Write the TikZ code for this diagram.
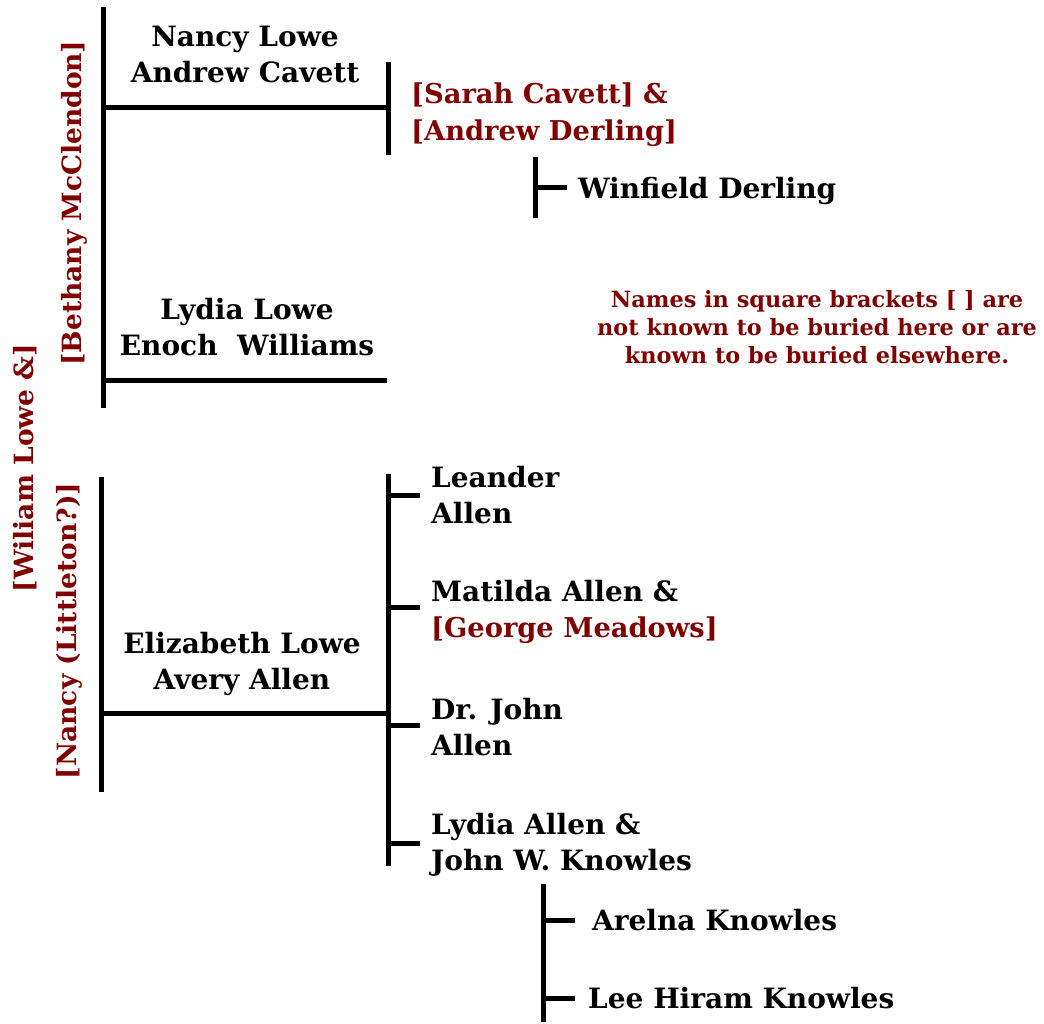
\documentclass[tikz,border=0pt]{standalone}
\usepackage{fontspec}
\setmainfont{DejaVu Serif}
\definecolor{dred}{RGB}{128,0,0}
\begin{document}
\begin{tikzpicture}[x=1pt,y=-1pt,
  person/.style={font=\bfseries\fontsize{28}{36}\selectfont, inner sep=0pt, text=black},
  lost/.style={font=\bfseries\fontsize{27.3}{36.5}\selectfont, inner sep=0pt, text=dred},
  parent/.style={font=\bfseries\fontsize{26.5}{36}\selectfont, inner sep=0pt, text=dred, rotate=90},
  notetext/.style={font=\bfseries\fontsize{22.4}{28}\selectfont, inner sep=0pt, text=dred, align=center},
  branch/.style={line width=5pt, black}
]
\useasboundingbox (0,0) rectangle (1044,1023);

% coordinates of tree lines
\coordinate (a1) at (103,7);   \coordinate (a2) at (103,408);
\coordinate (b1) at (103,107); \coordinate (b2) at (388,107);
\coordinate (c1) at (388,62);  \coordinate (c2) at (388,155);
\coordinate (d1) at (103,380); \coordinate (d2) at (387,380);
\coordinate (e1) at (535,157); \coordinate (e2) at (535,218);
\coordinate (e3) at (535,187); \coordinate (e4) at (567,187);
\coordinate (f1) at (101,477); \coordinate (f2) at (101,792);
\coordinate (g1) at (101,713); \coordinate (g2) at (388,713);
\coordinate (h1) at (388,474); \coordinate (h2) at (388,866);
\coordinate (k1) at (543,884); \coordinate (k2) at (543,1022);

\draw[branch] (a1) -- (a2);
\draw[branch] (b1) -- (b2);
\draw[branch] (c1) -- (c2);
\draw[branch] (d1) -- (d2);
\draw[branch] (e1) -- (e2);
\draw[branch] (e3) -- (e4);
\draw[branch] (f1) -- (f2);
\draw[branch] (g1) -- (g2);
\draw[branch] (h1) -- (h2);
\foreach \yy/\nm in {495/t1,607/t2,725/t3,843/t4}{
  \coordinate (\nm a) at (388,\yy); \coordinate (\nm b) at (420,\yy);
  \draw[branch] (\nm a) -- (\nm b);
}
\draw[branch] (k1) -- (k2);
\foreach \yy/\nm in {920/u1,998/u2}{
  \coordinate (\nm a) at (543,\yy); \coordinate (\nm b) at (575,\yy);
  \draw[branch] (\nm a) -- (\nm b);
}

% rotated parents
\node[parent] (william) at (25,468) {[Wiliam Lowe \&]};
\node[parent] (nancyl) at (69,631) {[Nancy (Littleton?)]};
\node[parent] (bethany) at (74,203) {[Bethany McClendon]};

% couples (base anchor = baseline of last line)
\node[person, align=center, anchor=base] (nancy) at (245,82) {Nancy Lowe\\Andrew Cavett};
\node[person, align=center, anchor=base] (lydia) at (247,355) {Lydia Lowe\\Enoch\ \ Williams};
\node[person, align=center, anchor=base] (eliz) at (242,689) {Elizabeth Lowe\\Avery Allen};

\node[lost, align=left, anchor=base west] (sarah) at (411,140) {[Sarah Cavett] \&\\{[Andrew Derling]}};
\node[person, anchor=base west] (winfield) at (578,198) {Winfield Derling};

\node[person, align=left, anchor=base west] (leander) at (431,523) {Leander\\Allen};
\node[person, align=left, anchor=base west] (matilda) at (431,637) {Matilda Allen \&\\{\color{dred}\fontsize{27.3}{36}\selectfont[George Meadows]}};
\node[person, align=left, anchor=base west] (john) at (431,755) {Dr. John\\Allen};
\node[person, align=left, anchor=base west] (lydiaa) at (431,870) {Lydia Allen \&\\John W. Knowles};
\node[person, anchor=base west] (arelna) at (592,930) {Arelna Knowles};
\node[person, anchor=base west] (lee) at (588,1008) {Lee Hiram Knowles};

\node[notetext, anchor=base] (note) at (817,363) {Names in square brackets {[ ]} are\\not known to be buried here or are\\known to be buried elsewhere.};
\end{tikzpicture}
\end{document}
